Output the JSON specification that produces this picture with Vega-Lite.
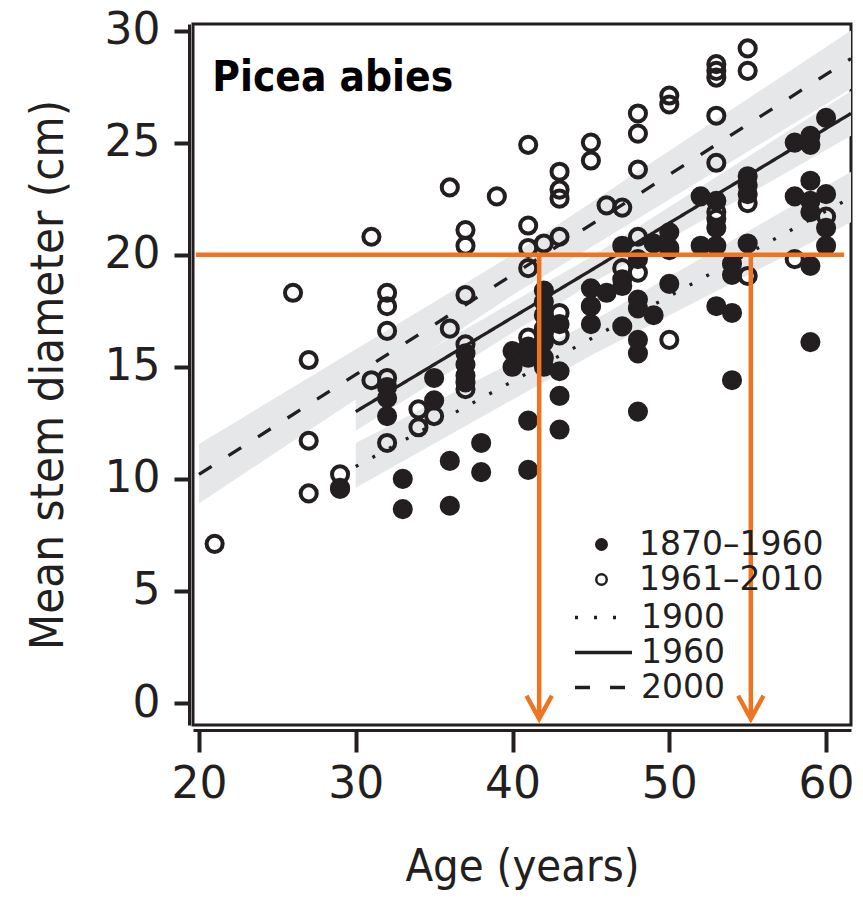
{
  "$schema": "https://vega.github.io/schema/vega-lite/v6.json",
  "width": 658,
  "height": 701,
  "autosize": {"type": "none"},
  "padding": {"left": 193, "top": 24, "right": 12, "bottom": 173},
  "background": "white",
  "config": {
    "view": {"stroke": "#231f20", "strokeWidth": 3},
    "font": "DejaVu Sans",
    "axis": {
      "grid": false,
      "domainColor": "#231f20",
      "domainWidth": 3,
      "tickColor": "#231f20",
      "tickWidth": 4,
      "labelColor": "#231f20",
      "titleColor": "#231f20",
      "labelFont": "DejaVu Sans",
      "labelFontSize": 44,
      "titleFont": "DejaVu Sans Condensed",
      "titleFontWeight": "normal"
    }
  },
  "datasets": {
    "points": [
      {"age": 21, "diameter": 7.1, "period": "1961–2010"},
      {"age": 26, "diameter": 18.3, "period": "1961–2010"},
      {"age": 27, "diameter": 15.3, "period": "1961–2010"},
      {"age": 27, "diameter": 11.7, "period": "1961–2010"},
      {"age": 27, "diameter": 9.35, "period": "1961–2010"},
      {"age": 29, "diameter": 10.2, "period": "1961–2010"},
      {"age": 29, "diameter": 9.55, "period": "1961–2010"},
      {"age": 31, "diameter": 20.8, "period": "1961–2010"},
      {"age": 31, "diameter": 14.4, "period": "1961–2010"},
      {"age": 32, "diameter": 18.3, "period": "1961–2010"},
      {"age": 32, "diameter": 17.7, "period": "1961–2010"},
      {"age": 32, "diameter": 16.6, "period": "1961–2010"},
      {"age": 32, "diameter": 14.5, "period": "1961–2010"},
      {"age": 32, "diameter": 11.6, "period": "1961–2010"},
      {"age": 34, "diameter": 13.1, "period": "1961–2010"},
      {"age": 34, "diameter": 12.3, "period": "1961–2010"},
      {"age": 35, "diameter": 12.8, "period": "1961–2010"},
      {"age": 36, "diameter": 23.0, "period": "1961–2010"},
      {"age": 36, "diameter": 16.7, "period": "1961–2010"},
      {"age": 37, "diameter": 21.1, "period": "1961–2010"},
      {"age": 37, "diameter": 20.4, "period": "1961–2010"},
      {"age": 37, "diameter": 18.2, "period": "1961–2010"},
      {"age": 37, "diameter": 16.0, "period": "1961–2010"},
      {"age": 37, "diameter": 14.0, "period": "1961–2010"},
      {"age": 39, "diameter": 22.6, "period": "1961–2010"},
      {"age": 41, "diameter": 24.9, "period": "1961–2010"},
      {"age": 41, "diameter": 21.3, "period": "1961–2010"},
      {"age": 41, "diameter": 20.3, "period": "1961–2010"},
      {"age": 41, "diameter": 19.4, "period": "1961–2010"},
      {"age": 41, "diameter": 16.3, "period": "1961–2010"},
      {"age": 41, "diameter": 15.6, "period": "1961–2010"},
      {"age": 42, "diameter": 20.5, "period": "1961–2010"},
      {"age": 43, "diameter": 23.7, "period": "1961–2010"},
      {"age": 43, "diameter": 22.9, "period": "1961–2010"},
      {"age": 43, "diameter": 22.5, "period": "1961–2010"},
      {"age": 43, "diameter": 20.8, "period": "1961–2010"},
      {"age": 43, "diameter": 17.4, "period": "1961–2010"},
      {"age": 43, "diameter": 16.4, "period": "1961–2010"},
      {"age": 45, "diameter": 25.0, "period": "1961–2010"},
      {"age": 45, "diameter": 24.2, "period": "1961–2010"},
      {"age": 45, "diameter": 17.7, "period": "1961–2010"},
      {"age": 46, "diameter": 22.2, "period": "1961–2010"},
      {"age": 47, "diameter": 22.1, "period": "1961–2010"},
      {"age": 47, "diameter": 19.4, "period": "1961–2010"},
      {"age": 48, "diameter": 26.3, "period": "1961–2010"},
      {"age": 48, "diameter": 25.4, "period": "1961–2010"},
      {"age": 48, "diameter": 23.8, "period": "1961–2010"},
      {"age": 48, "diameter": 20.8, "period": "1961–2010"},
      {"age": 48, "diameter": 19.2, "period": "1961–2010"},
      {"age": 50, "diameter": 27.1, "period": "1961–2010"},
      {"age": 50, "diameter": 26.7, "period": "1961–2010"},
      {"age": 50, "diameter": 20.3, "period": "1961–2010"},
      {"age": 50, "diameter": 16.2, "period": "1961–2010"},
      {"age": 53, "diameter": 28.5, "period": "1961–2010"},
      {"age": 53, "diameter": 28.2, "period": "1961–2010"},
      {"age": 53, "diameter": 27.9, "period": "1961–2010"},
      {"age": 53, "diameter": 26.2, "period": "1961–2010"},
      {"age": 53, "diameter": 24.1, "period": "1961–2010"},
      {"age": 53, "diameter": 21.9, "period": "1961–2010"},
      {"age": 53, "diameter": 21.6, "period": "1961–2010"},
      {"age": 55, "diameter": 29.2, "period": "1961–2010"},
      {"age": 55, "diameter": 28.2, "period": "1961–2010"},
      {"age": 55, "diameter": 22.3, "period": "1961–2010"},
      {"age": 55, "diameter": 19.05, "period": "1961–2010"},
      {"age": 58, "diameter": 19.8, "period": "1961–2010"},
      {"age": 60, "diameter": 21.7, "period": "1961–2010"},
      {"age": 29, "diameter": 9.6, "period": "1870–1960"},
      {"age": 32, "diameter": 14.1, "period": "1870–1960"},
      {"age": 32, "diameter": 13.6, "period": "1870–1960"},
      {"age": 32, "diameter": 12.8, "period": "1870–1960"},
      {"age": 33, "diameter": 10.0, "period": "1870–1960"},
      {"age": 33, "diameter": 8.65, "period": "1870–1960"},
      {"age": 35, "diameter": 14.5, "period": "1870–1960"},
      {"age": 35, "diameter": 13.5, "period": "1870–1960"},
      {"age": 36, "diameter": 10.8, "period": "1870–1960"},
      {"age": 36, "diameter": 8.8, "period": "1870–1960"},
      {"age": 37, "diameter": 15.6, "period": "1870–1960"},
      {"age": 37, "diameter": 15.1, "period": "1870–1960"},
      {"age": 37, "diameter": 14.6, "period": "1870–1960"},
      {"age": 37, "diameter": 14.3, "period": "1870–1960"},
      {"age": 38, "diameter": 11.6, "period": "1870–1960"},
      {"age": 38, "diameter": 10.3, "period": "1870–1960"},
      {"age": 40, "diameter": 15.7, "period": "1870–1960"},
      {"age": 40, "diameter": 15.0, "period": "1870–1960"},
      {"age": 41, "diameter": 15.9, "period": "1870–1960"},
      {"age": 41, "diameter": 15.4, "period": "1870–1960"},
      {"age": 41, "diameter": 12.6, "period": "1870–1960"},
      {"age": 41, "diameter": 10.4, "period": "1870–1960"},
      {"age": 42, "diameter": 18.4, "period": "1870–1960"},
      {"age": 42, "diameter": 17.9, "period": "1870–1960"},
      {"age": 42, "diameter": 17.3, "period": "1870–1960"},
      {"age": 42, "diameter": 16.7, "period": "1870–1960"},
      {"age": 42, "diameter": 16.1, "period": "1870–1960"},
      {"age": 42, "diameter": 15.4, "period": "1870–1960"},
      {"age": 42, "diameter": 15.0, "period": "1870–1960"},
      {"age": 43, "diameter": 16.9, "period": "1870–1960"},
      {"age": 43, "diameter": 14.8, "period": "1870–1960"},
      {"age": 43, "diameter": 13.7, "period": "1870–1960"},
      {"age": 43, "diameter": 12.2, "period": "1870–1960"},
      {"age": 45, "diameter": 18.5, "period": "1870–1960"},
      {"age": 45, "diameter": 17.7, "period": "1870–1960"},
      {"age": 45, "diameter": 16.9, "period": "1870–1960"},
      {"age": 46, "diameter": 18.3, "period": "1870–1960"},
      {"age": 47, "diameter": 20.4, "period": "1870–1960"},
      {"age": 47, "diameter": 18.9, "period": "1870–1960"},
      {"age": 47, "diameter": 18.6, "period": "1870–1960"},
      {"age": 47, "diameter": 16.8, "period": "1870–1960"},
      {"age": 48, "diameter": 19.8, "period": "1870–1960"},
      {"age": 48, "diameter": 18.0, "period": "1870–1960"},
      {"age": 48, "diameter": 17.6, "period": "1870–1960"},
      {"age": 48, "diameter": 16.2, "period": "1870–1960"},
      {"age": 48, "diameter": 15.6, "period": "1870–1960"},
      {"age": 48, "diameter": 13.0, "period": "1870–1960"},
      {"age": 49, "diameter": 20.5, "period": "1870–1960"},
      {"age": 49, "diameter": 17.3, "period": "1870–1960"},
      {"age": 50, "diameter": 21.0, "period": "1870–1960"},
      {"age": 50, "diameter": 20.2, "period": "1870–1960"},
      {"age": 50, "diameter": 18.7, "period": "1870–1960"},
      {"age": 52, "diameter": 22.6, "period": "1870–1960"},
      {"age": 52, "diameter": 20.4, "period": "1870–1960"},
      {"age": 53, "diameter": 22.4, "period": "1870–1960"},
      {"age": 53, "diameter": 21.2, "period": "1870–1960"},
      {"age": 53, "diameter": 20.4, "period": "1870–1960"},
      {"age": 53, "diameter": 17.7, "period": "1870–1960"},
      {"age": 54, "diameter": 19.6, "period": "1870–1960"},
      {"age": 54, "diameter": 19.1, "period": "1870–1960"},
      {"age": 54, "diameter": 17.4, "period": "1870–1960"},
      {"age": 54, "diameter": 14.4, "period": "1870–1960"},
      {"age": 55, "diameter": 23.5, "period": "1870–1960"},
      {"age": 55, "diameter": 23.1, "period": "1870–1960"},
      {"age": 55, "diameter": 22.7, "period": "1870–1960"},
      {"age": 55, "diameter": 20.5, "period": "1870–1960"},
      {"age": 58, "diameter": 25.0, "period": "1870–1960"},
      {"age": 58, "diameter": 22.6, "period": "1870–1960"},
      {"age": 59, "diameter": 25.3, "period": "1870–1960"},
      {"age": 59, "diameter": 24.9, "period": "1870–1960"},
      {"age": 59, "diameter": 23.3, "period": "1870–1960"},
      {"age": 59, "diameter": 22.4, "period": "1870–1960"},
      {"age": 59, "diameter": 21.9, "period": "1870–1960"},
      {"age": 59, "diameter": 19.5, "period": "1870–1960"},
      {"age": 59, "diameter": 16.1, "period": "1870–1960"},
      {"age": 60, "diameter": 26.1, "period": "1870–1960"},
      {"age": 60, "diameter": 22.7, "period": "1870–1960"},
      {"age": 60, "diameter": 21.2, "period": "1870–1960"},
      {"age": 60, "diameter": 20.4, "period": "1870–1960"}
    ],
    "fits": [
      {"year": "2000", "age": 20, "fit": 10.2, "lo": 8.9, "hi": 11.55},
      {"year": "2000", "age": 40, "fit": 19.1, "lo": 18.2, "hi": 20.0},
      {"year": "2000", "age": 61.59, "fit": 28.75, "lo": 27.4, "hi": 30.0},
      {"year": "1960", "age": 30, "fit": 13.0, "lo": 12.15, "hi": 13.85},
      {"year": "1960", "age": 45, "fit": 19.3, "lo": 18.7, "hi": 19.9},
      {"year": "1960", "age": 61.59, "fit": 26.3, "lo": 25.3, "hi": 27.3},
      {"year": "1900", "age": 30, "fit": 10.55, "lo": 9.6, "hi": 11.6},
      {"year": "1900", "age": 45, "fit": 16.25, "lo": 15.5, "hi": 17.0},
      {"year": "1900", "age": 61.59, "fit": 22.55, "lo": 21.45, "hi": 23.7}
    ],
    "guides": [
      {"x1": 19.8, "x2": 61.15, "y1": 20, "y2": 20},
      {"x1": 41.7, "x2": 41.7, "y1": 20, "y2": -0.55},
      {"x1": 55.2, "x2": 55.2, "y1": 20, "y2": -0.55}
    ],
    "arrows": [
      {"age": 41.7, "diameter": -0.7},
      {"age": 55.2, "diameter": -0.7}
    ],
    "labels": [
      {"label": "Picea abies", "age": 20.85, "diameter": 27.3}
    ]
  },
  "layer": [
    {
      "data": {"name": "fits"},
      "mark": {"type": "area", "fill": "#e6e7e8", "clip": true},
      "encoding": {
        "x": {"field": "age", "type": "quantitative", "scale": {"domain": [19.62, 61.59], "nice": false, "zero": false},
          "axis": {"values": [20, 30, 40, 50, 60], "offset": 5, "tickSize": 22, "labelPadding": 10, "titlePadding": 38, "titleFontSize": 45, "title": "Age (years)"}},
        "y": {"field": "lo", "type": "quantitative", "scale": {"domain": [-0.98, 30.29], "nice": false, "zero": false},
          "axis": {"values": [0, 5, 10, 15, 20, 25, 30], "offset": 4, "tickSize": 15, "labelPadding": 14, "titlePadding": 32, "titleFontSize": 47, "title": "Mean stem diameter (cm)"}},
        "y2": {"field": "hi"},
        "detail": {"field": "year", "type": "nominal"}
      }
    },
    {
      "data": {"name": "points"},
      "mark": {"type": "point", "shape": "circle", "filled": true, "size": 260, "stroke": "#231f20", "strokeWidth": 4, "opacity": 1},
      "encoding": {
        "x": {"field": "age", "type": "quantitative", "scale": {"domain": [19.62, 61.59], "nice": false, "zero": false}, "title": "Age (years)"},
        "y": {"field": "diameter", "type": "quantitative", "scale": {"domain": [-0.98, 30.29], "nice": false, "zero": false}, "title": "Mean stem diameter (cm)"},
        "fill": {"field": "period", "type": "nominal",
          "scale": {"domain": ["1870–1960", "1961–2010"], "range": ["#231f20", "transparent"]},
          "legend": {"orient": "none", "legendX": 392, "legendY": 503, "title": null, "padding": 0,
            "symbolType": "circle", "symbolSize": 110, "symbolStrokeWidth": 2.5, "symbolStrokeColor": "#231f20",
            "labelFont": "DejaVu Sans", "labelFontSize": 33, "labelColor": "#231f20", "labelOffset": 21, "labelLimit": 400, "rowPadding": 0, "clipHeight": 35}}
      }
    },
    {
      "data": {"name": "fits"},
      "mark": {"type": "line", "stroke": "#231f20", "strokeWidth": 3.3, "clip": true},
      "encoding": {
        "x": {"field": "age", "type": "quantitative", "scale": {"domain": [19.62, 61.59], "nice": false, "zero": false}, "title": "Age (years)"},
        "y": {"field": "fit", "type": "quantitative", "scale": {"domain": [-0.98, 30.29], "nice": false, "zero": false}, "title": "Mean stem diameter (cm)"},
        "strokeDash": {"field": "year", "type": "nominal",
          "scale": {"domain": ["1900", "1960", "2000"], "range": [[3, 16], [1, 0], [15, 20]]},
          "legend": {"orient": "none", "legendX": 380, "legendY": 576, "title": null, "padding": 0,
            "symbolType": "stroke", "symbolSize": 3249, "symbolStrokeWidth": 3.5, "symbolStrokeColor": "#231f20",
            "labelFont": "DejaVu Sans", "labelFontSize": 33, "labelColor": "#231f20", "labelOffset": 7, "labelLimit": 400, "rowPadding": 0, "clipHeight": 35}}
      }
    },
    {
      "data": {"name": "guides"},
      "mark": {"type": "rule", "stroke": "#ef7421", "strokeWidth": 4.5},
      "encoding": {
        "x": {"field": "x1", "type": "quantitative", "scale": {"domain": [19.62, 61.59], "nice": false, "zero": false}, "title": "Age (years)"},
        "x2": {"field": "x2"},
        "y": {"field": "y1", "type": "quantitative", "scale": {"domain": [-0.98, 30.29], "nice": false, "zero": false}, "title": "Mean stem diameter (cm)"},
        "y2": {"field": "y2"}
      }
    },
    {
      "data": {"name": "arrows"},
      "mark": {"type": "point", "shape": "M-0.55,-1L0,0L0.55,-1", "size": 2116, "filled": false, "stroke": "#ef7421", "strokeWidth": 4.5, "strokeJoin": "miter", "opacity": 1},
      "encoding": {
        "x": {"field": "age", "type": "quantitative", "scale": {"domain": [19.62, 61.59], "nice": false, "zero": false}, "title": "Age (years)"},
        "y": {"field": "diameter", "type": "quantitative", "scale": {"domain": [-0.98, 30.29], "nice": false, "zero": false}, "title": "Mean stem diameter (cm)"}
      }
    },
    {
      "data": {"name": "labels"},
      "mark": {"type": "text", "align": "left", "baseline": "alphabetic", "font": "DejaVu Sans Condensed", "fontWeight": "bold", "fontSize": 42, "color": "#000000"},
      "encoding": {
        "x": {"field": "age", "type": "quantitative", "scale": {"domain": [19.62, 61.59], "nice": false, "zero": false}, "title": "Age (years)"},
        "y": {"field": "diameter", "type": "quantitative", "scale": {"domain": [-0.98, 30.29], "nice": false, "zero": false}, "title": "Mean stem diameter (cm)"},
        "text": {"field": "label", "type": "nominal"}
      }
    }
  ]
}
